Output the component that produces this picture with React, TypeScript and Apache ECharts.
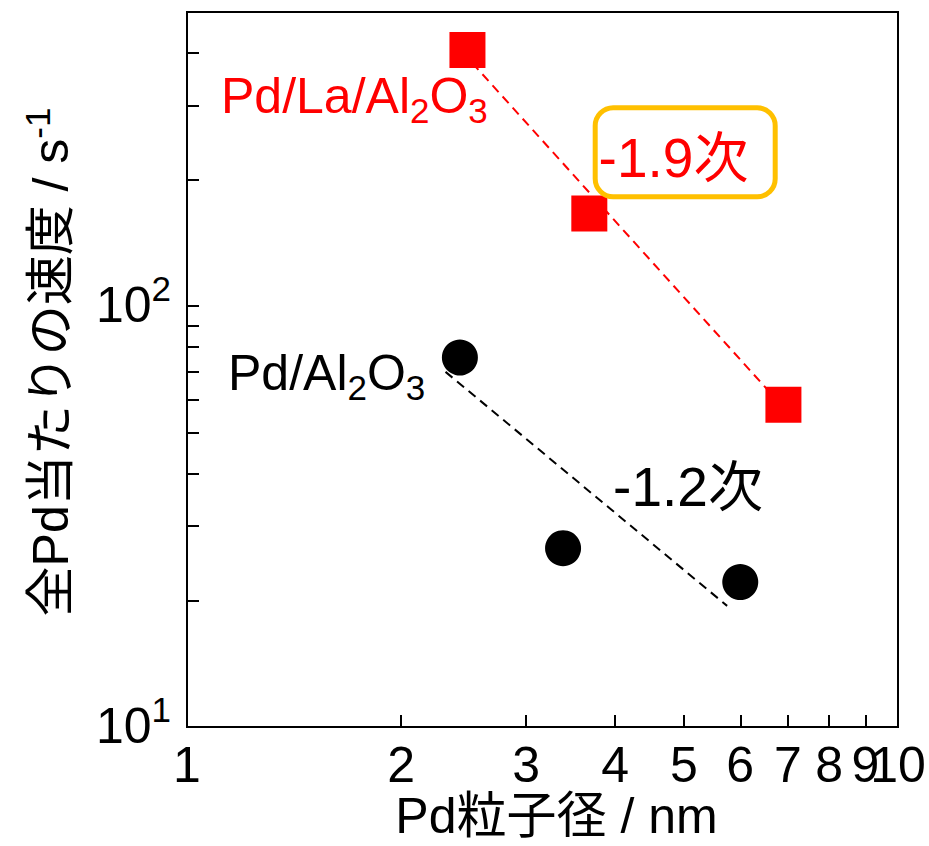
import React, { useEffect, useRef } from "react";
import * as echarts from "echarts";

const FONT = '"Liberation Sans", Arial, "Noto Sans CJK JP", sans-serif';

// Pd/La/Al2O3: particle size (nm) and rate per total Pd (s^-1)
const laSize = [2.48, 3.68, 6.9];
const laRate = [406, 166, 58.3];
// Pd/Al2O3
const alSize = [2.42, 3.38, 6.0];
const alRate = [75.5, 26.6, 22.1];
// power-law fit lines (two end points each)
const laFitSize = [2.52, 6.72];
const laFitRate = [378, 60.4];
const alFitSize = [2.31, 5.75];
const alFitRate = [69.8, 19.4];

// axis ticks and labels
// "10" is listed first so the end-label overlap check never pairs it with "9"
const xLabelValues = [10, 1, 2, 3, 4, 5, 6, 7, 8, 9];
const xTickValues = [2, 3, 4, 5, 6, 7, 8, 9];
const yLabelValues = [10, 100];
const yTickValues = [20, 30, 40, 50, 60, 70, 80, 90, 100, 200, 300, 400];

const pairs = (xs: number[], ys: number[]) => xs.map((x, i) => [x, ys[i]]);

export default function App() {
  const ref = useRef<HTMLDivElement>(null);

  useEffect(() => {
    if (!ref.current) return;
    const chart = echarts.init(ref.current, undefined, { renderer: "svg" });

    const subRich = (fill: string) => ({
      m: { fontSize: 50, fontFamily: FONT, fill, height: 50, verticalAlign: "top" },
      sub: { fontSize: 35, fontFamily: FONT, fill, height: 35, padding: [22, 0, 0, 0], verticalAlign: "top" },
    });

    chart.setOption({
      animation: false,
      backgroundColor: "#fff",
      grid: {
        left: 187,
        right: 31,
        top: 12,
        bottom: 119,
        show: true,
        borderColor: "#000",
        borderWidth: 2,
        backgroundColor: "transparent",
      },
      xAxis: {
        type: "log",
        logBase: 10,
        min: 1,
        max: 10,
        axisLine: { show: true, lineStyle: { color: "#000", width: 2 } },
        axisTick: {
          show: true,
          inside: true,
          length: 12,
          customValues: xTickValues,
          lineStyle: { color: "#000", width: 2 },
        },
        axisLabel: {
          customValues: xLabelValues,
          showMinLabel: true,
          showMaxLabel: true,
          hideOverlap: false,
          margin: 13,
          fontSize: 50,
          fontFamily: FONT,
          color: "#000",
          formatter: (v: number) => String(Math.round(v)),
        },
        splitLine: { show: false },
        minorTick: { show: false },
      },
      yAxis: {
        type: "log",
        logBase: 10,
        min: 10,
        max: 500,
        axisLine: { show: true, lineStyle: { color: "#000", width: 2 } },
        axisTick: {
          show: true,
          inside: true,
          length: 12,
          customValues: yTickValues,
          lineStyle: { color: "#000", width: 2 },
        },
        axisLabel: {
          customValues: yLabelValues,
          showMinLabel: true,
          margin: 16,
          color: "#000",
          formatter: (v: number) => `{b|10}{s|${Math.round(Math.log10(v))}}`,
          rich: {
            b: { fontSize: 50, fontFamily: FONT, color: "#000", height: 50, padding: [9, 0, 0, 0], verticalAlign: "top" },
            s: { fontSize: 35, fontFamily: FONT, color: "#000", height: 35, lineHeight: 71, verticalAlign: "top" },
          },
        },
        splitLine: { show: false },
        minorTick: { show: false },
      },
      series: [
        {
          type: "line",
          data: pairs(laFitSize, laFitRate),
          symbol: "none",
          silent: true,
          z: 2,
          lineStyle: { color: "#FF0000", width: 2, type: [9, 6] },
        },
        {
          type: "line",
          data: pairs(alFitSize, alFitRate),
          symbol: "none",
          silent: true,
          z: 2,
          lineStyle: { color: "#000", width: 2, type: [9, 6] },
        },
        {
          type: "scatter",
          data: pairs(laSize, laRate),
          symbol: "rect",
          symbolSize: 36,
          z: 3,
          itemStyle: { color: "#FF0000", opacity: 1 },
        },
        {
          type: "scatter",
          data: pairs(alSize, alRate),
          symbol: "circle",
          symbolSize: 36,
          z: 3,
          itemStyle: { color: "#000", opacity: 1 },
        },
      ],
      graphic: [
        {
          type: "text",
          x: 47.9,
          y: 362,
          rotation: Math.PI / 2,
          style: {
            text: "{m|全Pd当たりの速度 / s}{p|-1}",
            align: "center",
            verticalAlign: "middle",
            rich: {
              m: { fontSize: 50, fontFamily: FONT, fill: "#000", height: 50, padding: [6, 0, 0, 0], verticalAlign: "top" },
              p: { fontSize: 35, fontFamily: FONT, fill: "#000", height: 35, verticalAlign: "top" },
            },
          },
        },
        {
          type: "text",
          x: 556.5,
          y: 816,
          style: {
            text: "Pd粒子径 / nm",
            fontSize: 50,
            fontFamily: FONT,
            fill: "#000",
            align: "center",
            verticalAlign: "middle",
          },
        },
        {
          type: "text",
          x: 221,
          y: 70.7,
          style: {
            text: "{m|Pd/La/Al}{sub|2}{m|O}{sub|3}",
            align: "left",
            verticalAlign: "top",
            rich: subRich("#FF0000"),
          },
        },
        {
          type: "text",
          x: 228,
          y: 348.3,
          style: {
            text: "{m|Pd/Al}{sub|2}{m|O}{sub|3}",
            align: "left",
            verticalAlign: "top",
            rich: subRich("#000"),
          },
        },
        {
          type: "rect",
          shape: { x: 595.2, y: 107.8, width: 180, height: 89, r: 18 },
          style: { fill: "none", stroke: "#FFC000", lineWidth: 5 },
          z: 10,
        },
        {
          type: "text",
          x: 673.5,
          y: 157.6,
          z: 10,
          style: {
            text: "-1.9次",
            fontSize: 55,
            fontFamily: FONT,
            fill: "#FF0000",
            align: "center",
            verticalAlign: "middle",
          },
        },
        {
          type: "text",
          x: 688,
          y: 487.2,
          style: {
            text: "-1.2次",
            fontSize: 55,
            fontFamily: FONT,
            fill: "#000",
            align: "center",
            verticalAlign: "middle",
          },
        },
      ],
    });

    return () => chart.dispose();
  }, []);

  return (
    <div
      ref={ref}
      style={{ position: "fixed", left: 0, top: 0, width: 929, height: 846, background: "#fff" }}
    />
  );
}
